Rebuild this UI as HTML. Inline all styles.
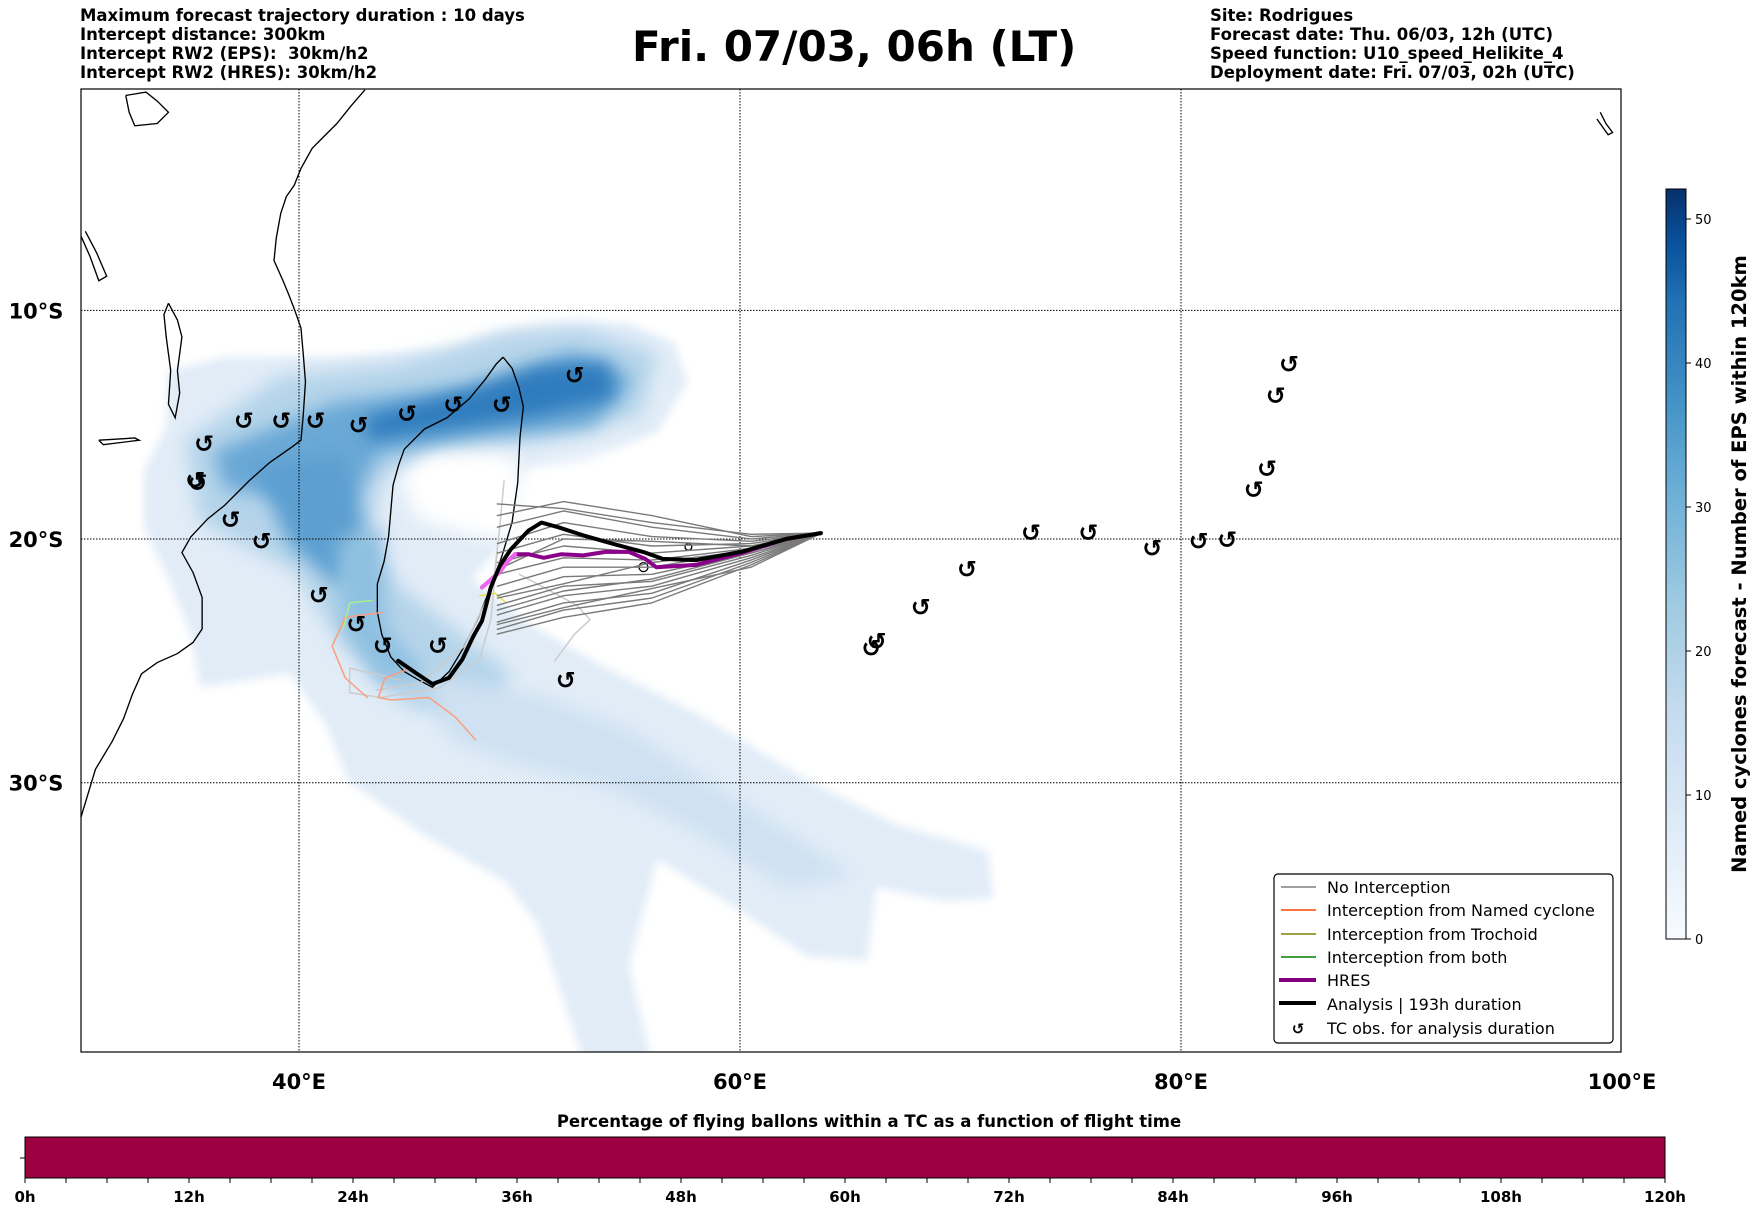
<!DOCTYPE html>
<html><head><meta charset="utf-8">
<style>
html,body{margin:0;padding:0;background:#fff;}
body{width:1752px;height:1213px;overflow:hidden;position:relative;font-family:"Liberation Sans","DejaVu Sans",sans-serif;}
.t{position:absolute;font-weight:bold;font-family:"DejaVu Sans","Liberation Sans",sans-serif;white-space:nowrap;}
</style></head>
<body>
<div class="t" style="left:80px;top:6px;font-size:16.5px;">Maximum forecast trajectory duration : 10 days</div>
<div class="t" style="left:80px;top:25px;font-size:16.5px;">Intercept distance: 300km</div>
<div class="t" style="left:80px;top:44px;font-size:16.5px;">Intercept RW2 (EPS):&nbsp; 30km/h2</div>
<div class="t" style="left:80px;top:63px;font-size:16.5px;">Intercept RW2 (HRES): 30km/h2</div>
<div class="t" style="left:632px;top:22px;font-size:42px;">Fri. 07/03, 06h (LT)</div>
<div class="t" style="left:1210px;top:6px;font-size:16.5px;">Site: Rodrigues</div>
<div class="t" style="left:1210px;top:25px;font-size:16.5px;">Forecast date: Thu. 06/03, 12h (UTC)</div>
<div class="t" style="left:1210px;top:44px;font-size:16.5px;">Speed function: U10_speed_Helikite_4</div>
<div class="t" style="left:1210px;top:63px;font-size:16.5px;">Deployment date: Fri. 07/03, 02h (UTC)</div>

<svg id="map" width="1752" height="1213" style="position:absolute;left:0;top:0;" xmlns="http://www.w3.org/2000/svg">
<defs>
<filter id="blur" x="-20%" y="-20%" width="140%" height="140%"><feGaussianBlur stdDeviation="8"/></filter>
<filter id="blur2" x="-20%" y="-20%" width="140%" height="140%"><feGaussianBlur stdDeviation="4"/></filter>
<clipPath id="plotclip"><rect x="81" y="89" width="1540" height="963"/></clipPath>
<linearGradient id="bluesGrad" x1="0" y1="1" x2="0" y2="0">
<stop offset="0" stop-color="#f7fbff"/><stop offset="0.15" stop-color="#deebf7"/><stop offset="0.3" stop-color="#c6dbef"/><stop offset="0.45" stop-color="#9ecae1"/><stop offset="0.6" stop-color="#6baed6"/><stop offset="0.72" stop-color="#4292c6"/><stop offset="0.85" stop-color="#2171b5"/><stop offset="0.93" stop-color="#08519c"/><stop offset="1" stop-color="#08306b"/>
</linearGradient>
</defs>
<g clip-path="url(#plotclip)">
<g id="density" transform="scale(1.123)">
 <polygon filter="url(#blur2)" fill="#e1ecf7" points="150,330 200,318 300,318 400,310 450,293 490,288 560,288 600,305 612,340 585,385 520,415 470,418 462,470 420,515 470,555 540,595 620,635 720,695 800,735 880,758 884,800 840,802 780,790 772,855 720,852 650,805 585,765 560,860 580,945 520,945 480,825 450,785 380,745 310,695 290,645 258,600 178,612 170,565 150,515 128,470 128,420 148,380"/>
 <polygon filter="url(#blur)" fill="#ffffff" points="355,420 385,402 455,404 470,440 462,480 425,478 372,462"/>
 <polygon filter="url(#blur)" fill="#ffffff" points="470,420 580,395 610,430 600,470 520,470 470,465"/>
 <polygon filter="url(#blur)" fill="#b5d4ea" points="165,392 250,335 350,325 450,298 520,292 585,315 570,370 480,392 385,394 338,430 328,480 355,522 405,560 455,600 435,645 360,628 300,568 262,508 222,488 178,465"/>
 <polygon filter="url(#blur)" fill="#cfe1f2" points="380,600 480,620 560,650 620,690 700,740 760,780 700,790 620,740 540,700 460,680 400,660"/>
 <polygon filter="url(#blur)" fill="#6aa8d6" points="190,402 300,358 420,345 510,314 565,336 528,380 420,390 338,404 308,458 258,442 200,436"/>
 <polygon filter="url(#blur)" fill="#2f7bbd" points="325,372 430,343 480,326 542,322 548,355 472,372 400,382 328,392"/>
 <polygon filter="url(#blur)" fill="#5b9fd0" points="225,415 305,405 325,470 305,525 258,485"/>
 <polygon filter="url(#blur)" fill="#8fc0e1" points="300,480 340,470 345,560 380,600 340,610 305,560"/>
</g>
<g id="coast" transform="scale(1.123)" fill="none" stroke="#000" stroke-width="1.2">
 <polyline points="325,80 312,95 300,110 288,122 278,132 268,150 262,165 255,175 250,190 246,212 244,232 252,250 257,262 262,275 268,292 270,315 272,340 270,370 268,392 260,398 240,412 222,428 200,450 185,462 170,478 162,492 172,510 180,532 180,560 172,572 158,582 140,590 126,600 118,618 110,640 100,660 85,685 72,728"/>
 <polyline points="448,318 456,328 462,345 466,362 463,390 461,430 456,465 447,495 438,520 426,550 412,578 400,598 385,612 372,605 360,598 348,585 340,565 336,545 336,520 342,500 346,478 348,455 350,432 355,414 360,400 378,382 398,372 418,355 432,338 442,324 448,318"/>
 <polyline points="150,270 158,285 162,300 158,330 160,350 156,372 150,360 152,330 148,300 146,280 150,270"/>
 <polyline points="72,210 80,228 88,250 95,246 86,225 76,206"/>
 <polyline points="112,85 130,82 140,90 150,100 140,110 120,112 115,100 112,85"/>
 <polyline points="1425,100 1430,110 1436,118 1432,120 1422,106"/>
 <polyline points="88,392 120,390 124,392 92,396 88,392"/>
 <circle cx="573" cy="505" r="4"/>
 <circle cx="613" cy="487" r="3"/>
</g>
<g id="grid" stroke="#000" stroke-width="1" stroke-dasharray="1.5,1.5"></g>
<g id="tracks"></g>
<g id="cyclones"></g>
</g>
<rect x="81" y="89" width="1540" height="963" fill="none" stroke="#000" stroke-width="1.2"/>
<g id="axislabels"></g>

<g>
 <rect x="1274" y="874" width="339" height="169" rx="4" fill="#fff" stroke="#000" stroke-width="1.2"/>
 <line x1="1281" y1="887" x2="1316" y2="887" stroke="#808080" stroke-width="1.5"/>
 <text x="1327" y="893" font-size="16" font-family="DejaVu Sans, sans-serif">No Interception</text>
 <line x1="1281" y1="910" x2="1316" y2="910" stroke="#ff4500" stroke-width="1.5"/>
 <text x="1327" y="916" font-size="16" font-family="DejaVu Sans, sans-serif">Interception from Named cyclone</text>
 <line x1="1281" y1="934" x2="1316" y2="934" stroke="#808000" stroke-width="1.5"/>
 <text x="1327" y="940" font-size="16" font-family="DejaVu Sans, sans-serif">Interception from Trochoid</text>
 <line x1="1281" y1="957" x2="1316" y2="957" stroke="#008000" stroke-width="1.5"/>
 <text x="1327" y="963" font-size="16" font-family="DejaVu Sans, sans-serif">Interception from both</text>
 <line x1="1279" y1="980" x2="1316" y2="980" stroke="#800080" stroke-width="4"/>
 <text x="1327" y="986" font-size="16" font-family="DejaVu Sans, sans-serif">HRES</text>
 <line x1="1279" y1="1003" x2="1316" y2="1003" stroke="#000" stroke-width="4"/>
 <text x="1327" y="1010" font-size="16" font-family="DejaVu Sans, sans-serif">Analysis | 193h duration</text>
 <text x="1298" y="1034" font-size="15" font-weight="bold" text-anchor="middle" font-family="DejaVu Sans, sans-serif">↺</text>
 <text x="1327" y="1034" font-size="16" font-family="DejaVu Sans, sans-serif">TC obs. for analysis duration</text>
</g>

<g>
 <rect x="1666" y="189" width="20" height="750" fill="url(#bluesGrad)" stroke="#000" stroke-width="1"/>
 <g id="cbticks"></g>
 <text transform="translate(1746,564) rotate(-90)" text-anchor="middle" font-size="19.5" font-weight="bold" font-family="DejaVu Sans, sans-serif">Named cyclones forecast - Number of EPS within 120km</text>
</g>

<g>
 <text x="869" y="1127" text-anchor="middle" font-size="16.5" font-weight="bold" font-family="DejaVu Sans, sans-serif">Percentage of flying ballons within a TC as a function of flight time</text>
 <rect x="25" y="1137" width="1640" height="41" fill="#9e0142" stroke="#000" stroke-width="1"/>
 <line x1="20" y1="1158" x2="25" y2="1158" stroke="#000"/>
 <g id="htick"></g>
</g>
</svg>

<script>
// ---- data ----
const gridLons = [40, 60, 80];
const gridLats = [-10, -20, -30];
const lonTickLabels = ["40°E", "60°E", "80°E", "100°E"];
const lonTickValues = [40, 60, 80, 100];
const latTickLabels = ["10°S", "20°S", "30°S"];
const densityTicks = [0, 10, 20, 30, 40, 50];
const hourTicks = [0, 12, 24, 36, 48, 60, 72, 84, 96, 108, 120];

const tcLon = [37.5,39.2,40.75,42.7,44.9,47.0,49.2,52.5,35.7,35.3,35.4,36.9,38.3,40.9,42.6,43.8,46.3,52.1,65.96,66.2,68.2,70.3,73.2,75.8,78.7,80.8,82.1,83.3,83.9,84.3,84.9];
const tcLat = [-14.9,-14.9,-14.9,-15.1,-14.6,-14.2,-14.2,-12.9,-15.9,-17.5,-17.6,-19.2,-20.1,-22.4,-23.6,-24.5,-24.5,-25.9,-24.6,-24.3,-22.9,-21.3,-19.75,-19.75,-20.4,-20.1,-20.05,-17.9,-17.0,-13.8,-12.4];

const analysisLon = [63.67,62.1,60.05,58.0,56.5,55.6,54.2,52.9,51.75,51.0,50.4,49.6,49.1,48.7,48.3,47.9,47.4,46.8,46.05,45.3,44.5];
const analysisLat = [-19.75,-20.0,-20.55,-20.9,-20.85,-20.55,-20.2,-19.85,-19.5,-19.3,-19.65,-20.45,-21.15,-22.05,-23.45,-24.1,-25.05,-25.8,-26.05,-25.6,-25.1];

const hresLon = [63.67,62.1,60.05,58.0,56.2,55.7,54.96,53.9,52.9,51.9,51.1,50.4,49.8,49.46,49.1,48.3];
const hresLat = [-19.75,-20.0,-20.6,-21.1,-21.2,-20.85,-20.55,-20.55,-20.7,-20.65,-20.8,-20.65,-20.65,-20.95,-21.4,-22.05];

const memberLonNodes = [63.7, 60.5, 56, 52, 49];
const memberLat60 = [-19.9,-20.0,-20.1,-20.2,-20.3,-20.4,-20.5,-20.6,-20.7,-20.8,-20.9,-21.0,-21.1,-21.2,-19.8,-20.5,-20.3,-20.6];
const memberLat56 = [-19.0,-19.5,-19.9,-20.3,-20.6,-20.9,-21.2,-21.5,-21.8,-22.0,-22.3,-22.5,-22.7,-22.1,-19.3,-21.0,-20.1,-21.7];
const memberLat52 = [-18.4,-18.8,-19.3,-19.8,-20.3,-20.8,-21.2,-21.6,-22.0,-22.4,-22.7,-23.0,-23.3,-22.9,-18.7,-21.9,-20.0,-22.2];
const memberLat49 = [-19.0,-19.5,-20.2,-20.6,-21.0,-21.5,-22.0,-22.4,-22.8,-23.2,-23.5,-23.8,-24.0,-23.6,-18.5,-22.5,-21.3,-23.0];

const lightLon1 = [49.0,48.7,48.2,46.4,43.7,42.3,42.3,44.6];
const lightLat1 = [-20.5,-23.4,-25.0,-26.2,-26.6,-26.4,-25.4,-25.9];
const lightLon2 = [50.0,52.6,53.2,52.5,51.6];
const lightLat2 = [-21.5,-22.8,-23.4,-24.0,-25.1];
const lightLon3 = [49.3,49.1,48.8,47.5,45.5,43.5];
const lightLat3 = [-17.5,-19.5,-22.0,-24.5,-26.0,-26.3];

const orangeLonA = [43.76,42.1,41.5,42.1,43.1];
const orangeLatA = [-23.1,-23.3,-24.5,-25.8,-26.6];
const orangeLonB = [45.1,43.9,43.6,44.2,45.9,47.1,48.0];
const orangeLatB = [-25.4,-25.8,-26.6,-26.7,-26.6,-27.4,-28.3];
const greenLon = [42.0,42.3,43.3];
const greenLat = [-23.8,-22.7,-22.6];
const yellowLon = [48.2,48.9,49.4];
const yellowLat = [-22.4,-22.3,-22.7];

// ---- scales ----
function xOf(lon){ return 740 + (lon - 60) * 22.05; }
function yOf(lat){ const r = lat*Math.PI/180; return 88.7 - 1263.4*Math.log(Math.tan(Math.PI/4 + r/2)); }
function cbY(v){ return 939 - v*14.4; }
function hX(h){ return 25 + h/120*1640; }

const NS = "http://www.w3.org/2000/svg";
function mk(tag, attrs, parent){ const e=document.createElementNS(NS,tag); for(const k in attrs) e.setAttribute(k,attrs[k]); parent.appendChild(e); return e; }
function pts(lons,lats){ return lons.map((l,i)=>xOf(l).toFixed(1)+","+yOf(lats[i]).toFixed(1)).join(" "); }

const grid=document.getElementById('grid');
gridLons.forEach(l=>{ const e=mk('line',{x1:xOf(l),y1:89,x2:xOf(l),y2:1052},grid);
 
  });
gridLats.forEach(l=>{ const e=mk('line',{x1:81,y1:yOf(l),x2:1621,y2:yOf(l)},grid);
 
  });

const ax=document.getElementById('axislabels');
lonTickValues.forEach((v,i)=>{ const e=mk('text',{x:xOf(v),y:1089,'text-anchor':'middle','font-size':'21','font-weight':'bold','font-family':'DejaVu Sans, sans-serif'},ax); e.textContent=lonTickLabels[i];
 
  });
gridLats.forEach((v,i)=>{ const e=mk('text',{x:36,y:yOf(v)+8,'text-anchor':'middle','font-size':'21','font-weight':'bold','font-family':'DejaVu Sans, sans-serif'},ax); e.textContent=latTickLabels[i];
 
  });

const tr=document.getElementById('tracks');
function line(lons,lats,color,w,name){ const e=mk('polyline',{points:pts(lons,lats),fill:'none',stroke:color,'stroke-width':w,'stroke-linejoin':'round','stroke-linecap':'round'},tr);
 
  return e; }
line(lightLon1,lightLat1,'#cccccc',1.5,'ensemble-track-light');
line(lightLon2,lightLat2,'#cccccc',1.5,'ensemble-track-light');
line(lightLon3,lightLat3,'#cccccc',1.5,'ensemble-track-light');
line(orangeLonA,orangeLatA,'#fc9e7c',1.5,'named-cyclone-interception-track');
line(orangeLonB,orangeLatB,'#fc9e7c',1.5,'named-cyclone-interception-track');
line(greenLon,greenLat,'#a6f08a',1.5,'both-interception-track');
line(yellowLon,yellowLat,'#e8e050',1.5,'trochoid-interception-track');
memberLat60.forEach((_,i)=>{
 const lats=[-19.75,memberLat60[i],memberLat56[i],memberLat52[i],memberLat49[i]];
 line(memberLonNodes,lats,'#7a7a7a',1.4,'ensemble-track-no-interception');
});
line(hresLon,hresLat,'#8b008b',4,'hres-track');
line(hresLon.slice(12),hresLat.slice(12),'#ee66ee',4,'hres-track-early');
line(analysisLon,analysisLat,'#000',4,'analysis-track');

const cy=document.getElementById('cyclones');
tcLon.forEach((l,i)=>{ const e=mk('text',{x:xOf(l),y:yOf(tcLat[i])+8,'text-anchor':'middle','font-size':'24','font-weight':'bold','font-family':'DejaVu Sans, sans-serif'},cy); e.textContent='↺';
 
  });

const cb=document.getElementById('cbticks');
densityTicks.forEach(v=>{ mk('line',{x1:1686,y1:cbY(v),x2:1691,y2:cbY(v),stroke:'#000'},cb);
 const e=mk('text',{x:1695,y:cbY(v)+5,'font-size':'13','font-family':'DejaVu Sans, sans-serif'},cb); e.textContent=v;
 
  });

const ht=document.getElementById('htick');
for(let h=0; h<=120; h+=3){ mk('line',{x1:hX(h),y1:1178,x2:hX(h),y2:1183,stroke:'#000'},ht); }
hourTicks.forEach(h=>{ const e=mk('text',{x:hX(h),y:1202,'text-anchor':'middle','font-size':'15','font-weight':'bold','font-family':'DejaVu Sans, sans-serif'},ht); e.textContent=h+'h';
 
  });
</script>
</body></html>
